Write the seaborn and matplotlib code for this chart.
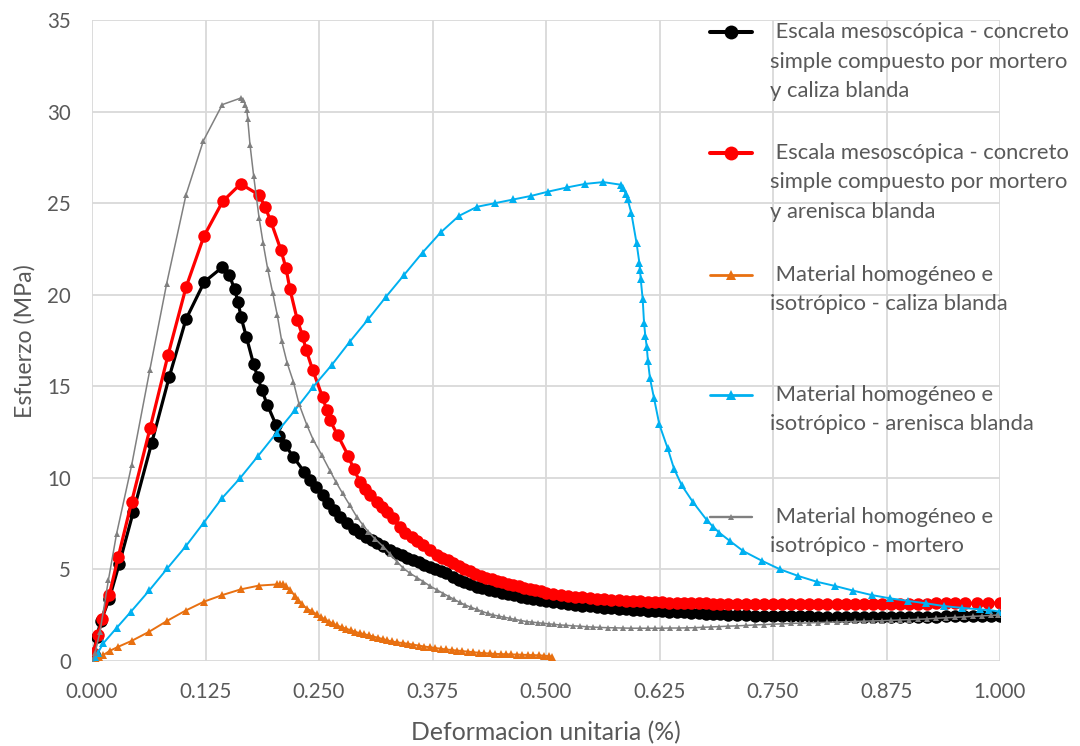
import numpy as np
import pandas as pd
import matplotlib
matplotlib.use("Agg")
import matplotlib.pyplot as plt
from matplotlib.lines import Line2D
import seaborn as sns

# ---- series: strain (%) and stress (MPa) ----
meso_caliza_x = [0.002, 0.005, 0.010, 0.019, 0.030, 0.0455, 0.0657, 0.085, 0.1035, 0.1237,
                 0.1435, 0.151, 0.157, 0.161, 0.164, 0.170, 0.178, 0.1825, 0.187, 0.193,
                 0.2026, 0.206, 0.2126, 0.2217, 0.2335, 0.240, 0.2467, 0.254, 0.260, 0.266,
                 0.273, 0.2805, 0.288, 0.295, 0.302, 0.308, 0.3135, 0.320, 0.328, 0.335,
                 0.341, 0.347, 0.354, 0.360, 0.366, 0.372, 0.378, 0.384, 0.390, 0.398,
                 0.404, 0.410, 0.416, 0.4236, 0.430, 0.437, 0.444, 0.451, 0.458, 0.465,
                 0.472, 0.479, 0.486, 0.493, 0.500, 0.508, 0.516, 0.524, 0.532, 0.540,
                 0.548, 0.556, 0.564, 0.572, 0.580, 0.588, 0.596, 0.604, 0.612, 0.620,
                 0.628, 0.636, 0.644, 0.652, 0.660, 0.668, 0.676, 0.684, 0.692, 0.700,
                 0.710, 0.720, 0.730, 0.740, 0.750, 0.760, 0.770, 0.780, 0.790, 0.800,
                 0.810, 0.820, 0.830, 0.840, 0.850, 0.860, 0.870, 0.880, 0.890, 0.900,
                 0.910, 0.920, 0.930, 0.940, 0.950, 0.960, 0.970, 0.980, 0.990, 1.000]
meso_caliza_y = [0.4, 1.3, 2.2, 3.4, 5.3, 8.15, 11.9, 15.5, 18.66, 20.7,
                 21.5, 21.1, 20.3, 19.6, 18.8, 17.7, 16.2, 15.5, 14.8, 14.0,
                 12.9, 12.3, 11.8, 11.15, 10.34, 9.88, 9.52, 9.06, 8.6, 8.25,
                 7.88, 7.52, 7.23, 6.97, 6.75, 6.58, 6.43, 6.26, 6.06, 5.9,
                 5.77, 5.64, 5.5, 5.38, 5.26, 5.15, 5.03, 4.9, 4.78, 4.6,
                 4.45, 4.33, 4.21, 4.06, 3.98, 3.9, 3.82, 3.74, 3.66, 3.59,
                 3.52, 3.45, 3.38, 3.31, 3.25, 3.2, 3.14, 3.1, 3.06, 3.02,
                 2.98, 2.95, 2.92, 2.89, 2.86, 2.83, 2.8, 2.78, 2.75, 2.73,
                 2.71, 2.69, 2.67, 2.65, 2.63, 2.61, 2.59, 2.57, 2.55, 2.53,
                 2.51, 2.49, 2.48, 2.46, 2.45, 2.44, 2.44, 2.43, 2.43, 2.42,
                 2.42, 2.42, 2.41, 2.41, 2.41, 2.41, 2.41, 2.41, 2.41, 2.41,
                 2.42, 2.42, 2.42, 2.43, 2.43, 2.43, 2.44, 2.44, 2.45, 2.45]

meso_arenisca_x = [0.0015, 0.007, 0.0107, 0.019, 0.029, 0.0437, 0.0639, 0.0837, 0.1035, 0.1233,
                   0.144, 0.1637, 0.184, 0.1905, 0.197, 0.208, 0.2137, 0.218, 0.2262, 0.232,
                   0.2357, 0.243, 0.254, 0.2585, 0.262, 0.2705, 0.2823, 0.288, 0.295, 0.301,
                   0.306, 0.3135, 0.319, 0.3245, 0.331, 0.339, 0.345, 0.352, 0.358, 0.365,
                   0.372, 0.3796, 0.386, 0.392, 0.398, 0.404, 0.410, 0.416, 0.422, 0.428,
                   0.434, 0.440, 0.446, 0.452, 0.458, 0.464, 0.470, 0.476, 0.482, 0.488,
                   0.494, 0.500, 0.508, 0.516, 0.524, 0.532, 0.540, 0.548, 0.556, 0.564,
                   0.572, 0.580, 0.588, 0.596, 0.604, 0.612, 0.620, 0.628, 0.636, 0.644,
                   0.652, 0.660, 0.668, 0.676, 0.684, 0.692, 0.700, 0.710, 0.720, 0.730,
                   0.740, 0.750, 0.760, 0.770, 0.780, 0.790, 0.800, 0.810, 0.820, 0.830,
                   0.840, 0.850, 0.860, 0.870, 0.880, 0.890, 0.900, 0.910, 0.920, 0.930,
                   0.940, 0.950, 0.962, 0.975, 0.987, 1.000]
meso_arenisca_y = [0.45, 1.42, 2.27, 3.6, 5.7, 8.7, 12.7, 16.7, 20.4, 23.2,
                   25.1, 26.05, 25.45, 24.8, 24.0, 22.45, 21.44, 20.3, 18.6, 17.75,
                   17.0, 15.9, 14.4, 13.7, 13.15, 12.34, 11.2, 10.5, 9.8, 9.4,
                   9.06, 8.7, 8.42, 8.15, 7.8, 7.3, 7.0, 6.79, 6.55, 6.33,
                   6.06, 5.8, 5.65, 5.5, 5.35, 5.2, 5.05, 4.9, 4.77, 4.65,
                   4.55, 4.46, 4.38, 4.3, 4.22, 4.15, 4.08, 4.01, 3.94, 3.87,
                   3.8, 3.74, 3.67, 3.61, 3.56, 3.51, 3.47, 3.43, 3.4, 3.37,
                   3.34, 3.31, 3.29, 3.27, 3.25, 3.23, 3.21, 3.2, 3.19, 3.18,
                   3.17, 3.16, 3.15, 3.14, 3.13, 3.12, 3.12, 3.11, 3.11, 3.1,
                   3.1, 3.1, 3.1, 3.1, 3.1, 3.1, 3.1, 3.1, 3.1, 3.1,
                   3.1, 3.11, 3.11, 3.11, 3.12, 3.12, 3.12, 3.13, 3.13, 3.14,
                   3.14, 3.15, 3.15, 3.16, 3.16, 3.17]

homog_caliza_x = [0.0, 0.004, 0.008, 0.0125, 0.0198, 0.029, 0.0437, 0.063, 0.083, 0.103,
                  0.1233, 0.1435, 0.1637, 0.184, 0.2034, 0.207, 0.210, 0.2137, 0.218, 0.2236,
                  0.227, 0.231, 0.2365, 0.242, 0.2474, 0.252, 0.2566, 0.261, 0.265, 0.270,
                  0.275, 0.280, 0.285, 0.290, 0.295, 0.300, 0.305, 0.310, 0.315, 0.320,
                  0.325, 0.330, 0.336, 0.342, 0.348, 0.354, 0.360, 0.366, 0.372, 0.378,
                  0.384, 0.390, 0.396, 0.402, 0.408, 0.414, 0.420, 0.426, 0.432, 0.438,
                  0.444, 0.450, 0.456, 0.462, 0.468, 0.474, 0.480, 0.486, 0.492, 0.498,
                  0.503, 0.5063]
homog_caliza_y = [0.0, 0.1, 0.2, 0.33, 0.56, 0.78, 1.1, 1.6, 2.2, 2.75,
                  3.24, 3.6, 3.91, 4.12, 4.18, 4.2, 4.2, 4.07, 3.88, 3.55,
                  3.35, 3.12, 2.86, 2.72, 2.55, 2.4, 2.27, 2.15, 2.05, 1.94,
                  1.84, 1.76, 1.68, 1.59, 1.52, 1.46, 1.4, 1.33, 1.27, 1.2,
                  1.13, 1.07, 1.02, 0.98, 0.94, 0.89, 0.84, 0.79, 0.75, 0.71,
                  0.67, 0.63, 0.6, 0.57, 0.54, 0.51, 0.48, 0.45, 0.43, 0.41,
                  0.39, 0.38, 0.37, 0.36, 0.35, 0.34, 0.33, 0.32, 0.31, 0.29,
                  0.26, 0.22]

homog_arenisca_x = [0.0, 0.003, 0.0065, 0.0125, 0.027, 0.043, 0.063, 0.083, 0.1035, 0.123,
                    0.143, 0.163, 0.183, 0.2034, 0.2236, 0.2437, 0.264, 0.284, 0.304, 0.324,
                    0.344, 0.364, 0.384, 0.404, 0.424, 0.444, 0.464, 0.484, 0.5025, 0.5235,
                    0.543, 0.563, 0.583, 0.585, 0.588, 0.590, 0.594, 0.5998, 0.6028, 0.6035,
                    0.6043, 0.6065, 0.608, 0.6094, 0.611, 0.6123, 0.6145, 0.619, 0.6248, 0.634,
                    0.641, 0.6494, 0.6615, 0.677, 0.684, 0.691, 0.7026, 0.7173, 0.7375, 0.758,
                    0.778, 0.798, 0.818, 0.8385, 0.8587, 0.879, 0.899, 0.9185, 0.938, 0.958,
                    0.978, 0.988, 0.9993]
homog_arenisca_y = [0.0, 0.2, 0.45, 0.97, 1.8, 2.7, 3.85, 5.06, 6.28, 7.55,
                    8.88, 9.98, 11.2, 12.47, 13.7, 14.98, 16.16, 17.44, 18.65, 19.9,
                    21.1, 22.3, 23.4, 24.3, 24.8, 25.0, 25.2, 25.4, 25.63, 25.86,
                    26.05, 26.15, 26.0, 25.8, 25.5, 25.2, 24.45, 22.8, 21.75, 21.35,
                    20.86, 19.75, 18.44, 17.75, 17.13, 16.36, 15.44, 14.34, 12.92, 11.61,
                    10.5, 9.6, 8.7, 7.7, 7.33, 7.0, 6.55, 6.0, 5.48, 5.0,
                    4.64, 4.33, 4.1, 3.84, 3.6, 3.42, 3.28, 3.15, 3.0, 2.9,
                    2.82, 2.78, 2.7]

homog_mortero_x = [0.0, 0.0033, 0.0088, 0.018, 0.027, 0.0437, 0.0637, 0.0822, 0.1035, 0.1226,
                   0.1435, 0.1645, 0.1665, 0.169, 0.1705, 0.1715, 0.174, 0.178, 0.184, 0.1885,
                   0.1935, 0.199, 0.204, 0.209, 0.215, 0.2217, 0.228, 0.2365, 0.2437, 0.253,
                   0.262, 0.269, 0.276, 0.284, 0.2915, 0.298, 0.3043, 0.312, 0.321, 0.328,
                   0.336, 0.343, 0.350, 0.358, 0.365, 0.372, 0.380, 0.387, 0.393, 0.399,
                   0.405, 0.411, 0.417, 0.4236, 0.430, 0.436, 0.442, 0.448, 0.454, 0.460,
                   0.466, 0.472, 0.479, 0.485, 0.491, 0.497, 0.503, 0.509, 0.515, 0.522,
                   0.530, 0.537, 0.545, 0.552, 0.560, 0.568, 0.576, 0.585, 0.594, 0.603,
                   0.612, 0.620, 0.628, 0.637, 0.646, 0.655, 0.664, 0.673, 0.682, 0.691,
                   0.700, 0.710, 0.720, 0.730, 0.740, 0.750, 0.760, 0.770, 0.780, 0.790,
                   0.800, 0.810, 0.820, 0.830, 0.840, 0.850, 0.860, 0.870, 0.880, 0.890,
                   0.900, 0.910, 0.920, 0.930, 0.940, 0.950, 0.960, 0.970, 0.980, 0.990,
                   0.998]
homog_mortero_y = [0.0, 0.42, 1.6, 4.4, 6.93, 10.7, 15.9, 20.6, 25.45, 28.4,
                   30.38, 30.75, 30.65, 30.36, 30.1, 29.6, 28.2, 26.5, 24.2, 22.8,
                   21.4, 20.1, 18.9, 17.45, 16.26, 15.26, 14.03, 12.9, 12.07, 11.25,
                   10.4, 9.75, 9.15, 8.5, 7.88, 7.45, 7.06, 6.65, 6.24, 5.85,
                   5.42, 5.06, 4.8, 4.55, 4.33, 4.1, 3.88, 3.68, 3.52, 3.36,
                   3.2, 3.06, 2.94, 2.82, 2.7, 2.6, 2.51, 2.45, 2.39, 2.33,
                   2.27, 2.21, 2.15, 2.12, 2.09, 2.06, 2.03, 2.0, 1.97, 1.95,
                   1.92, 1.9, 1.87, 1.85, 1.83, 1.82, 1.81, 1.8, 1.79, 1.79,
                   1.79, 1.79, 1.79, 1.8, 1.8, 1.81, 1.82, 1.84, 1.86, 1.88,
                   1.9, 1.92, 1.94, 1.97, 1.99, 2.01, 2.03, 2.05, 2.07, 2.08,
                   2.1, 2.11, 2.13, 2.14, 2.16, 2.17, 2.19, 2.2, 2.22, 2.24,
                   2.26, 2.28, 2.3, 2.33, 2.36, 2.38, 2.41, 2.44, 2.46, 2.49,
                   2.51]

series_labels = [
    " Escala mesoscópica - concreto\nsimple compuesto por mortero\ny caliza blanda",
    " Escala mesoscópica - concreto\nsimple compuesto por mortero\ny arenisca blanda",
    " Material homogéneo e\nisotrópico - caliza blanda",
    " Material homogéneo e\nisotrópico - arenisca blanda",
    " Material homogéneo e\nisotrópico - mortero",
]

x_ticks = [0.0, 0.125, 0.25, 0.375, 0.5, 0.625, 0.75, 0.875, 1.0]
y_ticks = [0, 5, 10, 15, 20, 25, 30, 35]
x_label = "Deformacion unitaria (%)"
y_label = "Esfuerzo (MPa)"

# ---- styling ----
sns.set_theme(style="white")
FONT = ["Lato", "DejaVu Sans"]
plt.rcParams["font.family"] = FONT
TEXT = "#595959"
GRID = "#D9D9D9"

styles = [
    dict(color="#000000", marker="o", lw=2.3, ms=9.0),
    dict(color="#FF0000", marker="o", lw=2.3, ms=9.0),
    dict(color="#E87011", marker="^", lw=1.4, ms=5.5),
    dict(color="#00B0F0", marker="^", lw=1.4, ms=5.5),
    dict(color="#808080", marker="^", lw=1.1, ms=4.0),
]

xs = [meso_caliza_x, meso_arenisca_x, homog_caliza_x, homog_arenisca_x, homog_mortero_x]
ys = [meso_caliza_y, meso_arenisca_y, homog_caliza_y, homog_arenisca_y, homog_mortero_y]

W, H = 1080, 746
fig = plt.figure(figsize=(W / 100, H / 100), dpi=100)
ax = fig.add_axes([92 / W, 1 - 661 / H, (1000 - 92) / W, (661 - 20) / H])

for i, (x, y, st) in enumerate(zip(xs, ys, styles)):
    df = pd.DataFrame({"x": x, "y": y})
    sns.lineplot(data=df, x="x", y="y", ax=ax, color=st["color"], linewidth=st["lw"],
                 marker=st["marker"], markersize=st["ms"], markeredgewidth=0,
                 markerfacecolor=st["color"], sort=False, estimator=None,
                 legend=False, zorder=3 + i)

ax.set_xlim(0, 1.0)
ax.set_ylim(0, 35)
ax.set_xticks(x_ticks)
ax.set_xticklabels([f"{v:.3f}" for v in x_ticks])
ax.set_yticks(y_ticks)
ax.set_yticklabels([str(v) for v in y_ticks])
ax.grid(True, color=GRID, linewidth=1.3)
ax.set_axisbelow(True)
for s in ax.spines.values():
    s.set_visible(False)
ax.tick_params(length=0, labelsize=14.8, labelcolor=TEXT)
ax.tick_params(axis="x", pad=15)
ax.tick_params(axis="y", pad=15)
ax.set_xlabel("")
ax.set_ylabel("")

fig.text(546 / W, 1 - 733 / H, x_label, ha="center", va="center",
         fontsize=17.8, color=TEXT)
fig.text(25 / W, 1 - 341 / H, y_label, ha="center", va="center",
         rotation=90, fontsize=16.7, color=TEXT)

# ---- legend entries laid out at the right ----
entry_y = [32, 153, 275, 395, 517]
line_gap = 29.5
for lab, st, ey in zip(series_labels, styles, entry_y):
    fig.add_artist(Line2D([710 / W, 752 / W], [1 - ey / H, 1 - ey / H],
                          transform=fig.transFigure, color=st["color"],
                          linewidth=st["lw"] + 0.6))
    fig.add_artist(Line2D([731 / W], [1 - ey / H], transform=fig.transFigure,
                          color=st["color"], marker=st["marker"],
                          markersize=st["ms"] + 1, markeredgewidth=0,
                          linestyle="none"))
    for k, txt in enumerate(lab.split("\n")):
        fig.text(770 / W, 1 - (ey + k * line_gap) / H, txt, ha="left", va="center",
                 fontsize=15.8, color=TEXT)

fig.savefig("out.png", dpi=100, facecolor="white")
